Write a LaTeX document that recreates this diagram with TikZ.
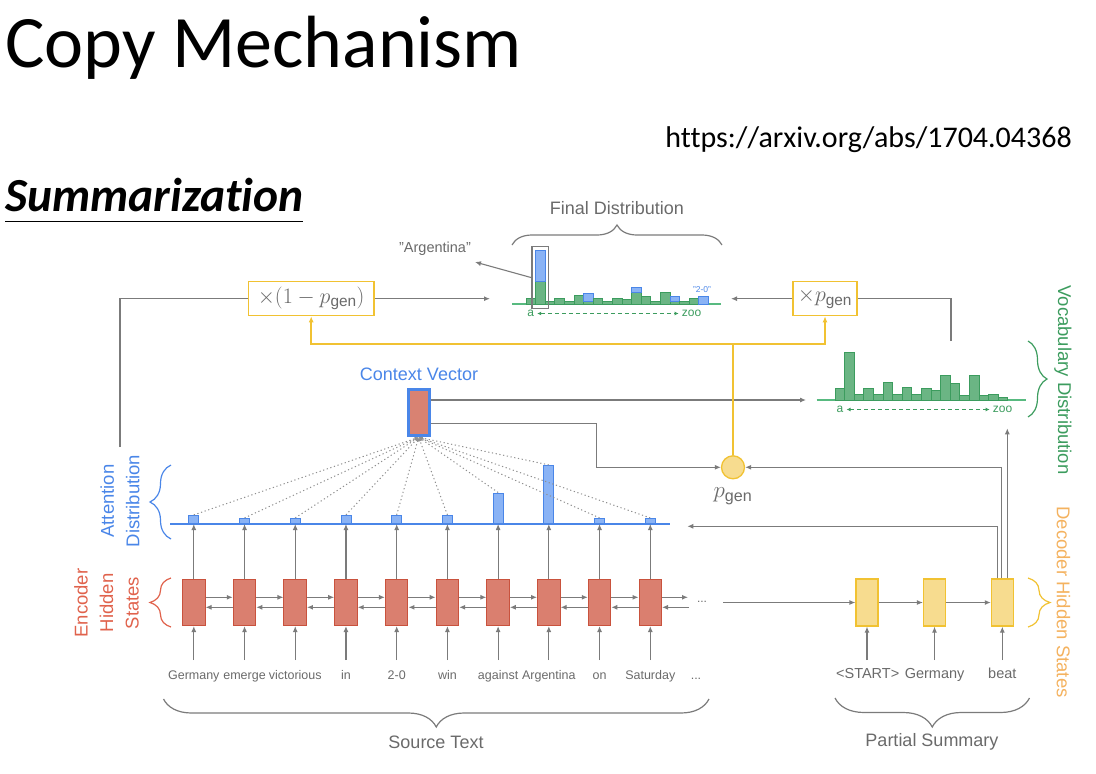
\RequirePackage{fix-cm}
\documentclass[tikz,border=0pt]{standalone}
\usepackage{fontspec}
\setmainfont{Liberation Sans}
\newfontfamily\slidefont[Ligatures=NoCommon]{Carlito}
\usetikzlibrary{arrows.meta,decorations.pathreplacing}

\definecolor{lgray}{HTML}{7B7B7B}
\definecolor{tgray}{HTML}{6A6A6A}
\definecolor{encfill}{HTML}{DA7F6F}
\definecolor{encline}{HTML}{C9523D}
\definecolor{encred}{HTML}{E0624C}
\definecolor{decfill}{HTML}{F7DC8F}
\definecolor{decline}{HTML}{F1C232}
\definecolor{decorange}{HTML}{F4B25F}
\definecolor{attblue}{HTML}{4A86E8}
\definecolor{attfill}{HTML}{8AB3F5}
\definecolor{vgreen}{HTML}{3C9C5E}
\definecolor{vfill}{HTML}{6BB584}
\definecolor{vline}{HTML}{58BA80}
\definecolor{cvfill}{HTML}{D98272}

\begin{document}
\begin{tikzpicture}[x=1pt,y=-1pt,
  >={Latex[length=6pt,width=5pt]},
  conn/.style={draw=lgray,line width=1.1pt,->},
  wire/.style={draw=lgray,line width=1.1pt},
  yarrow/.style={draw=decline,line width=1.5pt,-{Latex[length=6pt,width=5pt]}},
  encbox/.style={draw=encline,fill=encfill,line width=1pt,minimum width=22.5pt,minimum height=46.5pt,inner sep=0pt},
  decbox/.style={draw=decline,fill=decfill,line width=1.1pt,minimum width=22pt,minimum height=47pt,inner sep=0pt},
  attbar/.style={draw=attblue,fill=attfill,line width=0.8pt,minimum width=10pt,inner sep=0pt,anchor=south},
  gbar/.style={draw=vgreen,fill=vfill,line width=0.8pt},
  bbar/.style={draw=attblue,fill=attfill,line width=0.8pt},
  mulbox/.style={draw=decline,fill=white,line width=1.2pt,minimum height=34pt,inner sep=0pt,text=tgray,font=\fontsize{22}{26}\selectfont},
  lbl/.style={text=tgray,font=\fontsize{18}{22}\selectfont,inner sep=0pt},
  srcword/.style={text=tgray,font=\fontsize{12.5}{15}\selectfont,inner sep=0pt,anchor=base},
  decword/.style={text=tgray,font=\fontsize{14.5}{17}\selectfont,inner sep=0pt,anchor=base},
  side/.style={font=\fontsize{18.5}{25.5}\selectfont,align=center,inner sep=0pt},
  axislbl/.style={font=\fontsize{12}{14}\selectfont,text=vgreen,inner ysep=0pt,inner xsep=3pt},
  axisarrow/.style={draw=vgreen,line width=1pt,dash pattern=on 4pt off 3pt,{Latex[length=4pt,width=4pt]}-{Latex[length=4pt,width=4pt]}},
  br/.style={decorate,decoration={brace,amplitude=#1},line width=1.2pt},
  dots/.style={draw=lgray!85,line width=1pt,dash pattern=on 1.2pt off 2.6pt,-{Latex[length=4pt,width=3.5pt]}}
]
\useasboundingbox (0,0) rectangle (1096,774);

% slide headings
\node[anchor=base west,inner sep=0pt,font=\slidefont\fontsize{74}{80}\selectfont] (title) at (5,67) {Copy Mechanism};
\node[anchor=base east,inner sep=0pt,font=\slidefont\fontsize{30}{36}\selectfont] (url) at (1072,147) {https://arxiv.org/abs/1704.04368};
\node[anchor=base west,inner sep=0pt,font=\slidefont\fontsize{47.5}{52}\selectfont\bfseries\itshape] (task) at (5,211.5) {Summarization};
\draw[line width=1.1pt] (5,221.5) -- (303,221.5);

% ---------- final distribution ----------
\draw[vline,line width=1.3pt] (512,304) -- (721,304);
\foreach \g/\b [count=\k] in {5.3/0,22.7/53.3,2.7/0,5.3/0,2.7/0,8.7/0,2.7/11,5.3/0,2.7/0,5.3/0,4.3/0,12/16.7,7.7/0,2.7/0,12/0,2.7/7.7,2.7/0,5.3/0,0/7.3}{
  \pgfmathsetmacro\xa{526+9.6*(\k-1)}
  \pgfmathsetmacro\xb{\xa+9.6}
  \ifdim\g pt>0pt \draw[gbar] (\xa,304) rectangle (\xb,{304-\g}); \fi
  \ifdim\b pt>0pt \draw[bbar] (\xa,{304-\g}) rectangle (\xb,{304-\b}); \fi
}
\node[draw=lgray,line width=1.3pt,minimum width=16.7pt,minimum height=61.8pt,inner sep=0pt] (sel) at (540.3,277.6) {};
\node[lbl,font=\fontsize{14.5}{17}\selectfont] (argl) at (435,249) {"Argentina"};
\coordinate (argtip) at (475,262);
\draw[conn] (sel.west) -- (argtip);
\node[text=attblue,font=\fontsize{8.5}{10}\selectfont,inner sep=0pt] (twoo) at (702,290) {"2-0"};
\node[axislbl] (fa) at (530.7,313.5) {a};
\node[axislbl] (fz) at (691.5,313.5) {zoo};
\draw[axisarrow] (fa) -- (fz);
\draw[lgray,br=20] (512,245) -- (722,245);
\node[lbl] (fdl) at (617,208) {Final Distribution};

% ---------- mixing boxes ----------
\node[mulbox,minimum width=125.7pt] (m1) at (311.2,298.7) {$\times(1-p_{\mathrm{gen}})$};
\node[mulbox,minimum width=64pt] (m2) at (825,298.7) {$\times p_{\mathrm{gen}}$};
\coordinate (fdin) at (490,298.7);
\coordinate (fdin2) at (731,298.7);
\draw[conn] (m1.east) -- (fdin);
\draw[conn] (m2.west) -- (fdin2);
\coordinate (attup) at (120,447);
\draw[wire] (attup) |- (m1.west);
\coordinate (vocup) at (951,341);
\draw[wire] (vocup) |- (m2.east);

% ---------- vocabulary distribution ----------
\draw[vline,line width=1.3pt] (816.7,400) -- (1025.7,400);
\foreach \g [count=\k] in {11.7,47.3,5.7,11.7,5.7,17.3,5.7,12.3,5.7,11.7,10,25,16.7,5,25,5,5.7,3}{
  \pgfmathsetmacro\xa{835+9.6*(\k-1)}
  \pgfmathsetmacro\xb{\xa+9.6}
  \draw[gbar] (\xa,400) rectangle (\xb,{400-\g});
}
\node[axislbl] (va) at (840,409.5) {a};
\node[axislbl] (vz) at (1002.5,409.5) {zoo};
\draw[axisarrow] (va) -- (vz);
\draw[vgreen,br=19] (1028,341) -- (1028,417);
\node[side,text=vgreen,rotate=-90] (vdl) at (1063,380) {Vocabulary Distribution};

% ---------- context vector and p_gen ----------
\node[draw=attblue,fill=cvfill,line width=3pt,minimum width=21pt,minimum height=46pt,inner sep=0pt] (cv) at (418.7,412.8) {};
\node[text=attblue,font=\fontsize{18}{22}\selectfont,inner sep=0pt] (cvl) at (419,374) {Context Vector};
\node[circle,draw=decline,fill=decfill,line width=1.3pt,minimum size=23pt,inner sep=0pt] (pg) at (733,467.3) {};
\node[text=tgray,font=\fontsize{23}{26}\selectfont,inner sep=0pt] (pgl) at (733,496) {$p_{\mathrm{gen}}$};
\coordinate (vocin) at (806,400);
\draw[conn] (cv.east |- vocin) -- (vocin);
\coordinate (cvb) at (596.7,423.3);
\draw[conn] (cv.east |- cvb) -- (cvb) |- (pg.west);
% p_gen feeds both mixing boxes
\coordinate (yj) at (733,344);
\draw[yarrow] (pg.north) -- (yj) -| (m2.south);
\draw[yarrow] (yj) -| (m1.south);

% ---------- attention distribution ----------
\draw[attblue,line width=1.2pt] (170,524) -- (670,524);
\foreach \h [count=\i] in {8.3,5.3,5.3,8.3,8.3,8.3,30.7,58.3,5.3,5.3}{
  \node[attbar,minimum height=\h pt] (a\i) at ({193.8+50.72*(\i-1)},524) {};
}
\foreach \i in {1,...,10}{
  \draw[dots] (a\i.north) -- (cv.south);
}
\draw[attblue,br=21] (171,539) -- (171,465);
\node[side,text=attblue,rotate=90] (adl) at (120,501) {Attention\\Distribution};

% ---------- encoder ----------
\foreach \w [count=\i] in {Germany,emerge,victorious,in,2-0,win,against,Argentina,on,Saturday}{
  \node[encbox] (e\i) at ({193.8+50.72*(\i-1)},602.3) {};
  \node[srcword] (w\i) at ({193.8+50.72*(\i-1)},679.5) {\w};
  \coordinate (in\i) at ({193.8+50.72*(\i-1)},660);
  \draw[conn] (in\i) -- (e\i.south);
  \draw[conn] (e\i.north) -- (a\i.south);
}
\foreach \i [count=\j from 2] in {1,...,9}{
  \draw[conn] ([yshift=5pt]e\i.east) -- ([yshift=5pt]e\j.west);
  \draw[conn] ([yshift=-5pt]e\j.west) -- ([yshift=-5pt]e\i.east);
}
\coordinate (efwd) at (688,597.3);
\coordinate (ebwd) at (689,607.3);
\draw[conn] ([yshift=5pt]e10.east) -- (efwd);
\draw[conn] (ebwd) -- ([yshift=-5pt]e10.east);
\node[text=tgray,font=\fontsize{12}{14}\selectfont,inner sep=0pt] (edots) at (702,601.7) {...};
\node[srcword] (wdots) at (696,679.5) {...};
\draw[encred,br=21] (171,627) -- (171,578);
\node[side,text=encred,rotate=90] (ehl) at (106.5,603) {Encoder\\Hidden\\States};

% ---------- decoder ----------
\node[decbox] (d1) at (867,602.5) {};
\node[decbox] (d2) at (934.5,602.5) {};
\node[decbox] (d3) at (1002.3,602.5) {};
\coordinate (encout) at (723,602.5);
\draw[conn] (encout) -- (d1.west);
\draw[conn] (d1) -- (d2);
\draw[conn] (d2) -- (d3);
\node[decword] (s1) at (867.7,678) {<START>};
\node[decword] (s2) at (934.6,678) {Germany};
\node[decword] (s3) at (1002.3,678) {beat};
\foreach \i in {1,2,3}{
  \coordinate (di\i) at (d\i.south |- 0,660);
  \draw[conn] (di\i) -- (d\i.south);
}
\draw[conn] ([xshift=-0.5pt]d3.north) |- (pg.east);
\coordinate (attin) at (687.3,526.3);
\draw[conn] ([xshift=-5pt]d3.north) |- (attin);
\coordinate (vocin2) at (1007.3,428.3);
\draw[conn] ([xshift=5pt]d3.north) -- (vocin2);
\draw[decline,br=22] (1028,578) -- (1028,627);
\node[side,text=decorange,rotate=-90] (dhl) at (1063.5,602) {Decoder Hidden States};

% ---------- bottom braces ----------
\draw[lgray,br=28] (709,699) -- (163.5,699);
\node[lbl] (stl) at (436,742) {Source Text};
\draw[lgray,br=29] (1029.5,698) -- (835,698);
\node[lbl] (psl) at (932,742) {Partial Summary};
\end{tikzpicture}
\end{document}
